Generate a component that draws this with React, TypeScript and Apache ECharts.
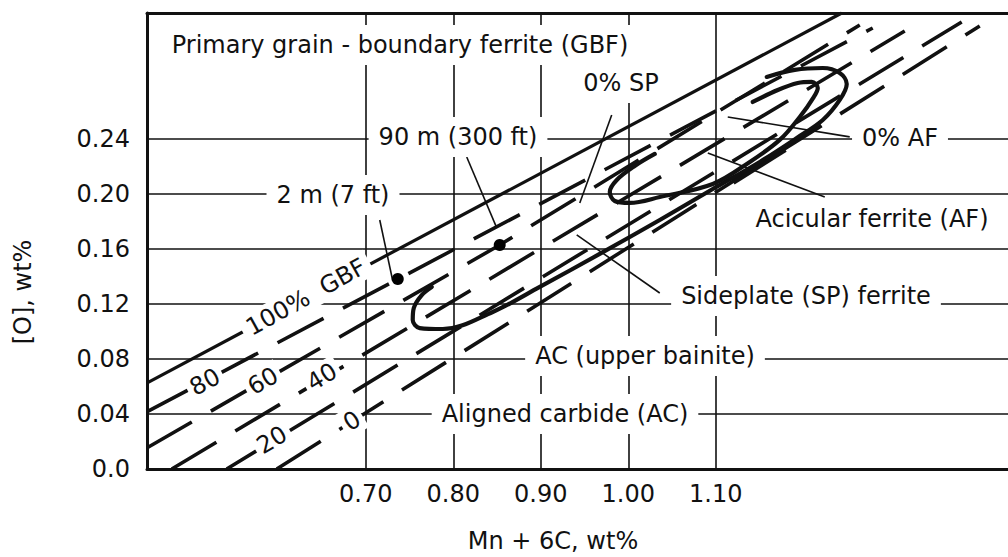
import React, { useEffect, useRef } from "react";
import * as echarts from "echarts";

// ---- tick labels ----
const xTickValues = [0.7, 0.8, 0.9, 1.0, 1.1];
const yTickValues = [0, 0.04, 0.08, 0.12, 0.16, 0.2, 0.24];

// ---- constant GBF % contours ([Mn+6C, O]) ----
const gbf100 = [[0.4497, 0.0625], [1.244, 0.3316]];
const gbf80 = [[0.4497, 0.0415], [1.2794, 0.3207]];
const gbf60 = [[0.4497, 0.0153], [0.8531, 0.1629], [1.2646, 0.3229]];
const gbf40 = [[0.4783, 0], [1.316, 0.3185]];
const gbf20 = [[0.5411, 0], [1.3811, 0.3251]];
const gbf0 = [[0.5983, 0], [1.4017, 0.3222]];
const gbf0Bold = [[1.1194, 0.209], [1.1789, 0.2329]];

// ---- 0% SP hook / outer loop ----
const spCurve = [
  [0.7754, 0.1324], [0.764, 0.1265], [0.7549, 0.1171], [0.7537, 0.1084],
  [0.7617, 0.1025], [0.788, 0.1018], [0.8451, 0.1142], [0.8989, 0.1324],
  [0.9674, 0.1564], [1.036, 0.1811], [1.0966, 0.2036], [1.1503, 0.2233],
  [1.1926, 0.2407], [1.2223, 0.2538], [1.2417, 0.2684], [1.2497, 0.28],
  [1.2417, 0.288], [1.2223, 0.2916], [1.1903, 0.2902], [1.1583, 0.2851],
];

// ---- 0% AF inner loop ----
const afCurve = [
  [1.0303, 0.2291], [1.0074, 0.2204], [0.9869, 0.2102], [0.9789, 0.2015],
  [0.9846, 0.1949], [1.0017, 0.1935], [1.036, 0.1978], [1.0966, 0.2073],
  [1.1389, 0.2233], [1.1731, 0.2393], [1.196, 0.256], [1.212, 0.2705],
  [1.2166, 0.2771], [1.2097, 0.2815], [1.1937, 0.2807], [1.1709, 0.2756],
  [1.1423, 0.2669],
];

// ---- weld deposits (2 m and 90 m water depth) ----
const weldPoints = [[0.7366, 0.1382], [0.8531, 0.1629]];

// ---- leader lines ----
const leader2m = [[0.716, 0.1811], [0.7309, 0.1367]];
const leader90m = [[0.8154, 0.2269], [0.8497, 0.1753]];
const leaderSP0 = [[0.9811, 0.2575], [0.9446, 0.1935]];
const leaderSP = [[0.9411, 0.1702], [1.036, 0.128]];
const leaderAF = [[1.0909, 0.2298], [1.2246, 0.1978]];
const leaderAF0 = [[1.1137, 0.256], [1.2531, 0.2415]];

const FONT = "DejaVu Sans";
const INK = "#111";

function lineSeries(data: number[][], opts: any = {}) {
  return {
    type: "line",
    data,
    symbol: "none",
    showSymbol: false,
    silent: true,
    z: opts.z ?? 3,
    smooth: opts.smooth ?? false,
    lineStyle: {
      color: INK,
      width: opts.width ?? 3.6,
      type: opts.dash ?? "solid",
      cap: opts.cap ?? "butt",
      join: "round",
      opacity: 1,
    },
  };
}

function label(text: string, x: number, y: number, rot = 0, pad: number[] = [8, 10]) {
  return {
    type: "text",
    x,
    y,
    rotation: (rot * Math.PI) / 180,
    z: 100,
    silent: true,
    style: {
      text,
      fill: INK,
      font: `24px '${FONT}'`,
      align: "center",
      verticalAlign: "middle",
      backgroundColor: "#fff",
      padding: pad,
    },
  };
}

export default function App() {
  const ref = useRef<HTMLDivElement>(null);
  useEffect(() => {
    if (!ref.current) return;
    const chart = echarts.init(ref.current, undefined, { renderer: "svg" });
    const dash = [52, 22];
    chart.setOption({
      animation: false,
      backgroundColor: "#fff",
      grid: { left: 147, right: 0, top: 13, bottom: 88 },
      xAxis: [
        {
          type: "value",
          min: 0.45,
          max: 1.434,
          axisLine: { show: true, lineStyle: { color: INK, width: 3 } },
          axisTick: { show: false },
          splitLine: { show: false },
          axisLabel: {
            customValues: xTickValues,
            formatter: (v: number) => v.toFixed(2),
            fontSize: 24,
            fontFamily: FONT,
            color: INK,
            margin: 13,
          },
        },
        {
          type: "value",
          min: 0.45,
          max: 1.434,
          position: "top",
          axisLine: { show: true, lineStyle: { color: INK, width: 3 } },
          axisTick: { show: false },
          axisLabel: { show: false },
          splitLine: { show: false },
        },
      ],
      yAxis: {
        type: "value",
        min: 0,
        max: 0.3316,
        axisLine: { show: true, lineStyle: { color: INK, width: 3 } },
        axisTick: { show: false },
        splitLine: { show: false },
        axisLabel: {
          customValues: yTickValues,
          formatter: (v: number) => (v === 0 ? "0.0" : v.toFixed(2)),
          fontSize: 24,
          fontFamily: FONT,
          color: INK,
          margin: 17,
        },
      },
      series: [
        {
          type: "line",
          data: [[0.45, 0]],
          symbol: "none",
          showSymbol: false,
          lineStyle: { width: 0 },
          z: 1,
          markLine: {
            silent: true,
            symbol: "none",
            label: { show: false },
            lineStyle: { color: INK, width: 1.6, type: "solid", opacity: 1 },
            data: [
              ...xTickValues.map((v) => ({ xAxis: v })),
              ...yTickValues.filter((v) => v > 0).map((v) => ({ yAxis: v })),
            ],
          },
        },
        lineSeries(gbf100, { width: 3.2 }),
        lineSeries(gbf80, { dash }),
        lineSeries(gbf60, { dash }),
        lineSeries(gbf40, { dash }),
        lineSeries(gbf20, { dash }),
        lineSeries(gbf0, { dash }),
        lineSeries(gbf0Bold, { width: 7 }),
        lineSeries(spCurve, { width: 4.2, smooth: 0.35, cap: "round" }),
        lineSeries(afCurve, { width: 4.2, smooth: 0.35, cap: "round" }),
        lineSeries(leader2m, { width: 1.6 }),
        lineSeries(leader90m, { width: 1.6 }),
        lineSeries(leaderSP0, { width: 1.6 }),
        lineSeries(leaderSP, { width: 1.6 }),
        lineSeries(leaderAF, { width: 1.6 }),
        lineSeries(leaderAF0, { width: 1.6 }),
        {
          type: "scatter",
          data: weldPoints,
          symbol: "circle",
          symbolSize: 12,
          itemStyle: { color: "#000", opacity: 1 },
          silent: true,
          z: 5,
        },
      ],
      graphic: [
        label("Primary grain - boundary ferrite (GBF)", 400, 45),
        label("0% SP", 621, 83),
        label("90 m (300 ft)", 458, 137),
        label("0% AF", 900, 138),
        label("2 m (7 ft)", 333, 195),
        label("Acicular ferrite (AF)", 872, 219),
        label("Sideplate (SP) ferrite", 806, 296),
        label("AC (upper bainite)", 645, 356),
        label("Aligned carbide (AC)", 565, 414),
        label("100%  GBF", 306, 297, 29, [2, 6]),
        label("80", 205, 382, 28, [2, 4]),
        label("60", 263, 381, 30, [2, 4]),
        label("40", 322, 377, 31, [2, 4]),
        label("20", 272, 440, 31, [2, 4]),
        label("0", 352, 421, 32, [2, 4]),
        {
          type: "text",
          x: 553,
          y: 541,
          z: 100,
          style: {
            text: "Mn + 6C, wt%",
            fill: INK,
            font: `24px '${FONT}'`,
            align: "center",
            verticalAlign: "middle",
          },
        },
        {
          type: "text",
          x: 23,
          y: 292,
          rotation: Math.PI / 2,
          z: 100,
          style: {
            text: "[O], wt%",
            fill: INK,
            font: `24px '${FONT}'`,
            align: "center",
            verticalAlign: "middle",
          },
        },
      ],
    });
    return () => chart.dispose();
  }, []);
  return (
    <div
      ref={ref}
      style={{ position: "fixed", left: 0, top: 0, width: 1008, height: 557, background: "#fff" }}
    />
  );
}
